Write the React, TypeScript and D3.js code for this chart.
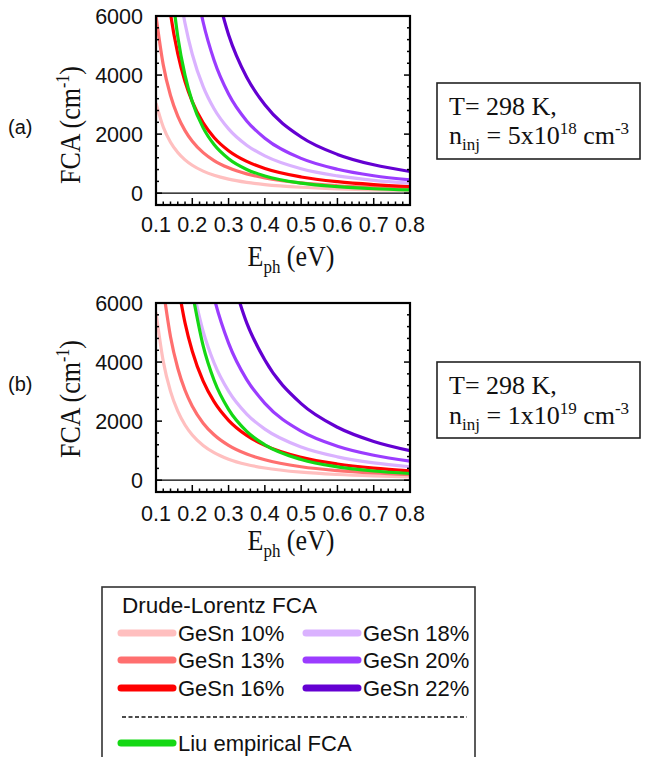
import React from "react";
import * as d3 from "d3";

// ---- data ----
const E_GRID = [0.1, 0.12, 0.14, 0.16, 0.18, 0.2, 0.23, 0.26, 0.3, 0.35, 0.4, 0.5, 0.6, 0.7, 0.8];

const SERIES_NAMES = ["GeSn 10%", "GeSn 13%", "GeSn 16%", "GeSn 18%", "GeSn 20%", "GeSn 22%", "Liu empirical FCA"];
const SERIES_COLORS = ["#ffbfbf", "#ff6f6f", "#ff0000", "#dab2ff", "#9b3cff", "#6400d2", "#14d814"];

// Panel (a): n_inj = 5e18
const fca10a = [3050, 2241, 1727, 1378, 1129, 945, 746, 607, 476, 367, 293, 201, 148, 114, 91];
const fca13a = [6000, 4345, 3307, 2611, 2120, 1759, 1374, 1106, 859, 653, 516, 347, 252, 192, 151];
const fca16a = [null, 8139, 6081, 4725, 3782, 3099, 2380, 1888, 1440, 1076, 836, 549, 389, 291, 226];
const fca18a = [null, null, null, 7191, 5749, 4706, 3609, 2859, 2178, 1625, 1261, 825, 584, 436, 338];
const fca20a = [null, null, null, null, null, 7708, 5788, 4502, 3358, 2448, 1862, 1178, 811, 591, 450];
const fca22a = [null, null, null, null, null, null, null, 7176, 5368, 3925, 2993, 1903, 1314, 961, 733];
const liuA = [null, null, 7315, 5302, 3992, 3097, 2211, 1646, 1166, 804, 583, 340, 219, 151, 110];

// Panel (b): n_inj = 1e19
const fca10b = [5680, 4024, 3007, 2337, 1870, 1532, 1177, 933, 712, 532, 414, 271, 192, 144, 112];
const fca13b = [null, 6474, 4860, 3791, 3045, 2503, 1930, 1537, 1178, 884, 690, 455, 324, 244, 190];
const fca16b = [null, null, null, 6653, 5326, 4364, 3351, 2658, 2028, 1516, 1177, 772, 547, 409, 317];
const fca18b = [null, null, null, null, null, 6593, 5035, 3974, 3015, 2239, 1730, 1124, 791, 587, 454];
const fca20b = [null, null, null, null, null, null, 7916, 6187, 4641, 3404, 2603, 1662, 1152, 845, 646];
const fca22b = [null, null, null, null, null, null, null, null, 7274, 5327, 4068, 2591, 1793, 1313, 1003];
const liuB = [null, null, null, null, null, 6368, 4547, 3385, 2397, 1653, 1198, 700, 451, 311, 226];

const X_TICKS = [0.1, 0.2, 0.3, 0.4, 0.5, 0.6, 0.7, 0.8];
const Y_TICKS = [0, 2000, 4000, 6000];
const X_DOMAIN = [0.1, 0.8];
const Y_DOMAIN = [-400, 6000];

const SANS = "'Liberation Sans', Arial, sans-serif";
const SERIF = "'Liberation Serif', 'Times New Roman', serif";

type PanelProps = {
  id: string;
  top: number;
  bottom: number;
  series: (number | null)[][];
  label: string;
  labelY: number;
  xLabelY: number;
  xTitleY: number;
  yTitleY: number;
  boxTop: number;
  boxBottom: number;
  t1Y: number;
  t2Y: number;
  nMant: string;
  nExp: string;
};

const LEFT = 156;
const RIGHT = 410;

function Panel(p: PanelProps) {
  const x = d3.scaleLinear().domain(X_DOMAIN).range([LEFT, RIGHT]);
  const y = d3.scaleLinear().domain(Y_DOMAIN).range([p.bottom, p.top]);
  const line = d3
    .line<[number, number | null]>()
    .defined((d) => d[1] !== null)
    .x((d) => x(d[0]))
    .y((d) => y(d[1] as number))
    .curve(d3.curveMonotoneX);

  const minorX = d3.range(0, 36).map((i) => 0.1 + i * 0.02).filter((v) => v <= 0.8001);
  const minorY = d3.range(0, 16).map((i) => i * 400);

  const order = [0, 1, 2, 3, 4, 5, 6];
  return (
    <g>
      <defs>
        <clipPath id={"clip" + p.id}>
          <rect x={LEFT} y={p.top} width={RIGHT - LEFT} height={p.bottom - p.top} />
        </clipPath>
      </defs>
      {/* zero line */}
      <line x1={LEFT} x2={RIGHT} y1={y(0)} y2={y(0)} stroke="#000" strokeWidth={1.2} />
      <g clipPath={`url(#clip${p.id})`}>
        {order.map((i) => (
          <path
            key={i}
            d={line(E_GRID.map((e, k) => [e, p.series[i][k]]) as [number, number | null][]) || ""}
            fill="none"
            stroke={SERIES_COLORS[i]}
            strokeWidth={3.2}
          />
        ))}
      </g>
      {/* ticks */}
      {minorY.map((v) => {
        const major = v % 2000 === 0;
        const len = major ? 6 : 3;
        return (
          <g key={"y" + v}>
            <line x1={LEFT} x2={LEFT + len} y1={y(v)} y2={y(v)} stroke="#000" strokeWidth={1.5} />
            <line x1={RIGHT} x2={RIGHT - len} y1={y(v)} y2={y(v)} stroke="#000" strokeWidth={1.5} />
          </g>
        );
      })}
      {minorX.map((v, i) => {
        const major = i % 5 === 0;
        const len = major ? 7 : 3.5;
        return (
          <line key={"x" + i} x1={x(v)} x2={x(v)} y1={p.bottom} y2={p.bottom - len} stroke="#000" strokeWidth={1.5} />
        );
      })}
      {/* frame */}
      <rect x={LEFT} y={p.top} width={RIGHT - LEFT} height={p.bottom - p.top} fill="none" stroke="#000" strokeWidth={2.2} />
      {/* tick labels */}
      {Y_TICKS.map((v) => (
        <text key={"yl" + v} x={143} y={y(v) + 7.5} textAnchor="end" fontFamily={SANS} fontSize={21.5} fill="#111">
          {v}
        </text>
      ))}
      {X_TICKS.map((v) => (
        <text key={"xl" + v} x={x(v)} y={p.xLabelY} textAnchor="middle" fontFamily={SANS} fontSize={21.5} fill="#111">
          {v.toFixed(1)}
        </text>
      ))}
      {/* axis titles */}
      <text
        transform={`translate(${(LEFT + RIGHT) / 2 + 8},${p.xTitleY}) scale(1,1.12)`}
        textAnchor="middle"
        fontFamily={SERIF}
        fontSize={26}
        fill="#111"
      >
        E<tspan fontSize={17} dy={6}>ph</tspan>
        <tspan dy={-6}> (eV)</tspan>
      </text>
      <text
        transform={`translate(80,${p.yTitleY}) rotate(-90) scale(1,1.12)`}
        textAnchor="middle"
        fontFamily={SERIF}
        fontSize={26}
        fill="#111"
      >
        FCA (cm<tspan fontSize={16} dy={-10}>-1</tspan>
        <tspan dy={10}>)</tspan>
      </text>
      {/* panel label */}
      <text x={8} y={p.labelY} fontFamily={SANS} fontSize={20} fill="#111">
        {p.label}
      </text>
      {/* condition box */}
      <rect x={437} y={p.boxTop} width={203} height={p.boxBottom - p.boxTop} fill="none" stroke="#222" strokeWidth={1.6} />
      <text x={449} y={p.t1Y} fontFamily={SERIF} fontSize={26} fill="#111">
        T= 298 K,
      </text>
      <text x={449} y={p.t2Y} fontFamily={SERIF} fontSize={26} fill="#111">
        n<tspan fontSize={17} dy={6}>inj</tspan>
        <tspan dy={-6}> = {p.nMant}</tspan>
        <tspan fontSize={17} dy={-10}>{p.nExp}</tspan>
        <tspan dy={10}> cm</tspan>
        <tspan fontSize={17} dy={-10}>-3</tspan>
      </text>
    </g>
  );
}

function Legend() {
  const rows = [
    { i: 0, col: 0, row: 0 },
    { i: 1, col: 0, row: 1 },
    { i: 2, col: 0, row: 2 },
    { i: 3, col: 1, row: 0 },
    { i: 4, col: 1, row: 1 },
    { i: 5, col: 1, row: 2 },
  ];
  const rowY = [633, 660, 688];
  const colX = [121, 306];
  return (
    <g>
      <rect x={102} y={587} width={373} height={200} fill="none" stroke="#333" strokeWidth={1.6} />
      <text x={122} y={613} fontFamily={SANS} fontSize={22.5} fill="#111">
        Drude-Lorentz FCA
      </text>
      {rows.map((r) => (
        <g key={r.i}>
          <line
            x1={colX[r.col]}
            x2={colX[r.col] + 52}
            y1={rowY[r.row]}
            y2={rowY[r.row]}
            stroke={SERIES_COLORS[r.i]}
            strokeWidth={7}
            strokeLinecap="round"
          />
          <text x={colX[r.col] + 57} y={rowY[r.row] + 8} fontFamily={SANS} fontSize={22} fill="#111">
            {SERIES_NAMES[r.i]}
          </text>
        </g>
      ))}
      <line x1={122} x2={467} y1={717} y2={717} stroke="#111" strokeWidth={1.3} strokeDasharray="4,2.5" />
      <line x1={121} x2={173} y1={743} y2={743} stroke={SERIES_COLORS[6]} strokeWidth={7} strokeLinecap="round" />
      <text x={178} y={751} fontFamily={SANS} fontSize={22} fill="#111">
        {SERIES_NAMES[6]}
      </text>
    </g>
  );
}

export default function App() {
  return (
    <svg
      width={649}
      height={757}
      style={{ position: "absolute", left: 0, top: 0, background: "#fff" }}
    >
      <rect x={0} y={0} width={649} height={757} fill="#fff" />
      <Panel
        id="a"
        top={16}
        bottom={205}
        series={[fca10a, fca13a, fca16a, fca18a, fca20a, fca22a, liuA]}
        label="(a)"
        labelY={134}
        xLabelY={232}
        xTitleY={266}
        yTitleY={125}
        boxTop={83}
        boxBottom={159}
        t1Y={115}
        t2Y={144}
        nMant="5x10"
        nExp="18"
      />
      <Panel
        id="b"
        top={303}
        bottom={492}
        series={[fca10b, fca13b, fca16b, fca18b, fca20b, fca22b, liuB]}
        label="(b)"
        labelY={391}
        xLabelY={521}
        xTitleY={550}
        yTitleY={399}
        boxTop={362}
        boxBottom={438}
        t1Y={394}
        t2Y={424}
        nMant="1x10"
        nExp="19"
      />
      <Legend />
    </svg>
  );
}
